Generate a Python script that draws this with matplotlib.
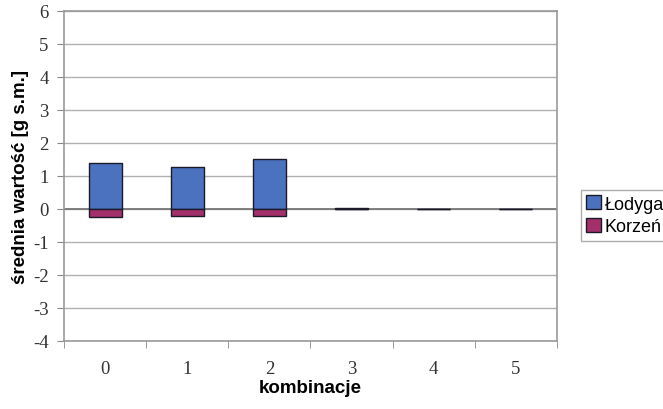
import numpy as np
import matplotlib.pyplot as plt

plt.rcParams['axes.unicode_minus'] = False

# dane
kombinacje = ['0', '1', '2', '3', '4', '5']
lodyga = [1.38, 1.26, 1.52, 0.03, 0.01, 0.01]
korzen = [-0.25, -0.21, -0.21, -0.01, -0.005, -0.005]

fig = plt.figure(figsize=(6.63, 4.10), dpi=100)
ax = fig.add_axes([64 / 663, 68 / 410, 493 / 663, 330 / 410])

x = np.arange(len(kombinacje))
ax.bar(x, lodyga, width=0.4, color='#4A72BE', edgecolor='#1a1a2a', linewidth=1.0,
       label='Łodyga', zorder=3)
ax.bar(x, korzen, width=0.4, color='#A3306A', edgecolor='#1a1a2a', linewidth=1.0,
       label='Korzeń', zorder=3)

ax.set_xlim(-0.5, 5.5)
ax.set_ylim(-4, 6)
ax.set_yticks(range(-4, 7))
ax.set_xticks(x)
ax.set_xticklabels(kombinacje)
ax.set_xticks(np.arange(-0.5, 6, 1), minor=True)
ax.tick_params(axis='x', which='major', length=0, pad=14)
ax.tick_params(axis='x', which='minor', length=5, color='#888888')
ax.tick_params(axis='y', length=5, color='#888888', pad=6)
for lab in ax.get_xticklabels() + ax.get_yticklabels():
    lab.set_family('Liberation Serif')
    lab.set_fontsize(13.5)
    lab.set_color('#333333')

ax.yaxis.grid(True, color='#b0b0b0', linewidth=1.0, zorder=0)
ax.axhline(0, color='#777777', linewidth=1.3, zorder=2)
for s in ax.spines.values():
    s.set_color('#999999')
    s.set_linewidth(1.2)

ax.set_xlabel('kombinacje', family='Liberation Sans', fontweight='bold', fontsize=13.5, labelpad=1)
ax.set_ylabel('średnia wartość [g s.m.]', family='Liberation Sans', fontweight='bold', fontsize=13.5)
ax.yaxis.set_label_coords(-0.072, 0.5)

leg = fig.legend(loc='upper left', bbox_to_anchor=(581 / 663, 1 - 191 / 410),
                 prop={'family': 'Liberation Sans', 'size': 13}, frameon=True,
                 fancybox=False, edgecolor='#999999', handlelength=0.8, handleheight=0.8,
                 handletextpad=0.2, borderpad=0.3, labelspacing=0.3, borderaxespad=0)

fig.savefig('out.png', dpi=100)
